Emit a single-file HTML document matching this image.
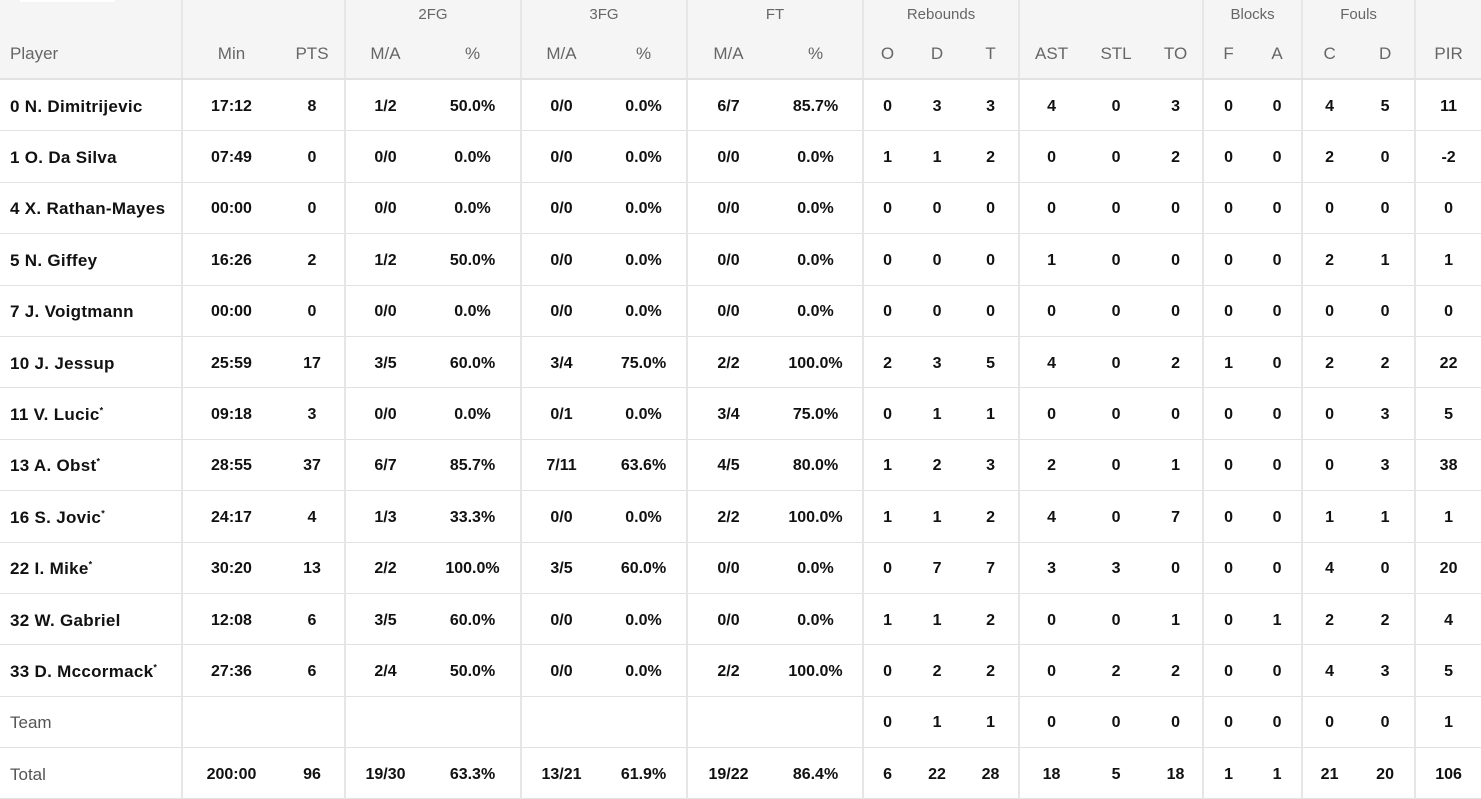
<!DOCTYPE html>
<html><head><meta charset="utf-8"><style>
body{margin:0;background:#fff;width:1481px;height:792px;overflow:hidden;font-family:"Liberation Sans",sans-serif}
table{border-collapse:collapse;table-layout:fixed;width:1481px}
td,th{padding:0;text-align:center;white-space:nowrap;overflow:hidden}
thead th{background:#f5f5f5;color:#666;font-weight:normal}
tr.g th{height:28px;font-size:15px;vertical-align:middle}
tr.h th{height:48px;font-size:17px;border-bottom:2px solid #e2e2e2;padding-top:2px}
tbody td{height:47.4px;font-size:16px;font-weight:bold;color:#111;border-bottom:1px solid #e2e2e2;padding-top:3px}
td.p,th.p{text-align:left;padding-left:10px}
td.p{font-size:17px;letter-spacing:0.3px}
.r{border-right:2px solid #e6e6e6}
tbody tr.t td.p{font-weight:normal;color:#555;letter-spacing:0}
sup{font-size:9px}
</style></head><body>
<div style="position:absolute;left:20px;top:0;width:95px;height:2px;background:#fff"></div>
<table>
<colgroup><col style="width:182px"><col style="width:98px"><col style="width:65px"><col style="width:80px"><col style="width:96px"><col style="width:80px"><col style="width:86px"><col style="width:82px"><col style="width:94px"><col style="width:48px"><col style="width:52px"><col style="width:56px"><col style="width:64px"><col style="width:66px"><col style="width:54px"><col style="width:50px"><col style="width:49px"><col style="width:54px"><col style="width:59px"><col style="width:66px"></colgroup>
<thead>
<tr class="g"><th class="r"></th><th colspan="2" class="r"></th><th colspan="2" class="r">2FG</th><th colspan="2" class="r">3FG</th><th colspan="2" class="r">FT</th><th colspan="3" class="r">Rebounds</th><th colspan="3" class="r"></th><th colspan="2" class="r">Blocks</th><th colspan="2" class="r">Fouls</th><th></th></tr>
<tr class="h"><th class="p r">Player</th><th>Min</th><th class="r">PTS</th><th>M/A</th><th class="r">%</th><th>M/A</th><th class="r">%</th><th>M/A</th><th class="r">%</th><th>O</th><th>D</th><th class="r">T</th><th>AST</th><th>STL</th><th class="r">TO</th><th>F</th><th class="r">A</th><th>C</th><th class="r">D</th><th>PIR</th></tr>
</thead>
<tbody>
<tr><td class="p r">0 N. Dimitrijevic</td><td>17:12</td><td class="r">8</td><td>1/2</td><td class="r">50.0%</td><td>0/0</td><td class="r">0.0%</td><td>6/7</td><td class="r">85.7%</td><td>0</td><td>3</td><td class="r">3</td><td>4</td><td>0</td><td class="r">3</td><td>0</td><td class="r">0</td><td>4</td><td class="r">5</td><td>11</td></tr>
<tr><td class="p r">1 O. Da Silva</td><td>07:49</td><td class="r">0</td><td>0/0</td><td class="r">0.0%</td><td>0/0</td><td class="r">0.0%</td><td>0/0</td><td class="r">0.0%</td><td>1</td><td>1</td><td class="r">2</td><td>0</td><td>0</td><td class="r">2</td><td>0</td><td class="r">0</td><td>2</td><td class="r">0</td><td>-2</td></tr>
<tr><td class="p r">4 X. Rathan-Mayes</td><td>00:00</td><td class="r">0</td><td>0/0</td><td class="r">0.0%</td><td>0/0</td><td class="r">0.0%</td><td>0/0</td><td class="r">0.0%</td><td>0</td><td>0</td><td class="r">0</td><td>0</td><td>0</td><td class="r">0</td><td>0</td><td class="r">0</td><td>0</td><td class="r">0</td><td>0</td></tr>
<tr><td class="p r">5 N. Giffey</td><td>16:26</td><td class="r">2</td><td>1/2</td><td class="r">50.0%</td><td>0/0</td><td class="r">0.0%</td><td>0/0</td><td class="r">0.0%</td><td>0</td><td>0</td><td class="r">0</td><td>1</td><td>0</td><td class="r">0</td><td>0</td><td class="r">0</td><td>2</td><td class="r">1</td><td>1</td></tr>
<tr><td class="p r">7 J. Voigtmann</td><td>00:00</td><td class="r">0</td><td>0/0</td><td class="r">0.0%</td><td>0/0</td><td class="r">0.0%</td><td>0/0</td><td class="r">0.0%</td><td>0</td><td>0</td><td class="r">0</td><td>0</td><td>0</td><td class="r">0</td><td>0</td><td class="r">0</td><td>0</td><td class="r">0</td><td>0</td></tr>
<tr><td class="p r">10 J. Jessup</td><td>25:59</td><td class="r">17</td><td>3/5</td><td class="r">60.0%</td><td>3/4</td><td class="r">75.0%</td><td>2/2</td><td class="r">100.0%</td><td>2</td><td>3</td><td class="r">5</td><td>4</td><td>0</td><td class="r">2</td><td>1</td><td class="r">0</td><td>2</td><td class="r">2</td><td>22</td></tr>
<tr><td class="p r">11 V. Lucic<sup>*</sup></td><td>09:18</td><td class="r">3</td><td>0/0</td><td class="r">0.0%</td><td>0/1</td><td class="r">0.0%</td><td>3/4</td><td class="r">75.0%</td><td>0</td><td>1</td><td class="r">1</td><td>0</td><td>0</td><td class="r">0</td><td>0</td><td class="r">0</td><td>0</td><td class="r">3</td><td>5</td></tr>
<tr><td class="p r">13 A. Obst<sup>*</sup></td><td>28:55</td><td class="r">37</td><td>6/7</td><td class="r">85.7%</td><td>7/11</td><td class="r">63.6%</td><td>4/5</td><td class="r">80.0%</td><td>1</td><td>2</td><td class="r">3</td><td>2</td><td>0</td><td class="r">1</td><td>0</td><td class="r">0</td><td>0</td><td class="r">3</td><td>38</td></tr>
<tr><td class="p r">16 S. Jovic<sup>*</sup></td><td>24:17</td><td class="r">4</td><td>1/3</td><td class="r">33.3%</td><td>0/0</td><td class="r">0.0%</td><td>2/2</td><td class="r">100.0%</td><td>1</td><td>1</td><td class="r">2</td><td>4</td><td>0</td><td class="r">7</td><td>0</td><td class="r">0</td><td>1</td><td class="r">1</td><td>1</td></tr>
<tr><td class="p r">22 I. Mike<sup>*</sup></td><td>30:20</td><td class="r">13</td><td>2/2</td><td class="r">100.0%</td><td>3/5</td><td class="r">60.0%</td><td>0/0</td><td class="r">0.0%</td><td>0</td><td>7</td><td class="r">7</td><td>3</td><td>3</td><td class="r">0</td><td>0</td><td class="r">0</td><td>4</td><td class="r">0</td><td>20</td></tr>
<tr><td class="p r">32 W. Gabriel</td><td>12:08</td><td class="r">6</td><td>3/5</td><td class="r">60.0%</td><td>0/0</td><td class="r">0.0%</td><td>0/0</td><td class="r">0.0%</td><td>1</td><td>1</td><td class="r">2</td><td>0</td><td>0</td><td class="r">1</td><td>0</td><td class="r">1</td><td>2</td><td class="r">2</td><td>4</td></tr>
<tr><td class="p r">33 D. Mccormack<sup>*</sup></td><td>27:36</td><td class="r">6</td><td>2/4</td><td class="r">50.0%</td><td>0/0</td><td class="r">0.0%</td><td>2/2</td><td class="r">100.0%</td><td>0</td><td>2</td><td class="r">2</td><td>0</td><td>2</td><td class="r">2</td><td>0</td><td class="r">0</td><td>4</td><td class="r">3</td><td>5</td></tr>
<tr class="t"><td class="p r">Team</td><td></td><td class="r"></td><td></td><td class="r"></td><td></td><td class="r"></td><td></td><td class="r"></td><td>0</td><td>1</td><td class="r">1</td><td>0</td><td>0</td><td class="r">0</td><td>0</td><td class="r">0</td><td>0</td><td class="r">0</td><td>1</td></tr>
<tr class="t"><td class="p r">Total</td><td>200:00</td><td class="r">96</td><td>19/30</td><td class="r">63.3%</td><td>13/21</td><td class="r">61.9%</td><td>19/22</td><td class="r">86.4%</td><td>6</td><td>22</td><td class="r">28</td><td>18</td><td>5</td><td class="r">18</td><td>1</td><td class="r">1</td><td>21</td><td class="r">20</td><td>106</td></tr>
</tbody></table>
</body></html>
